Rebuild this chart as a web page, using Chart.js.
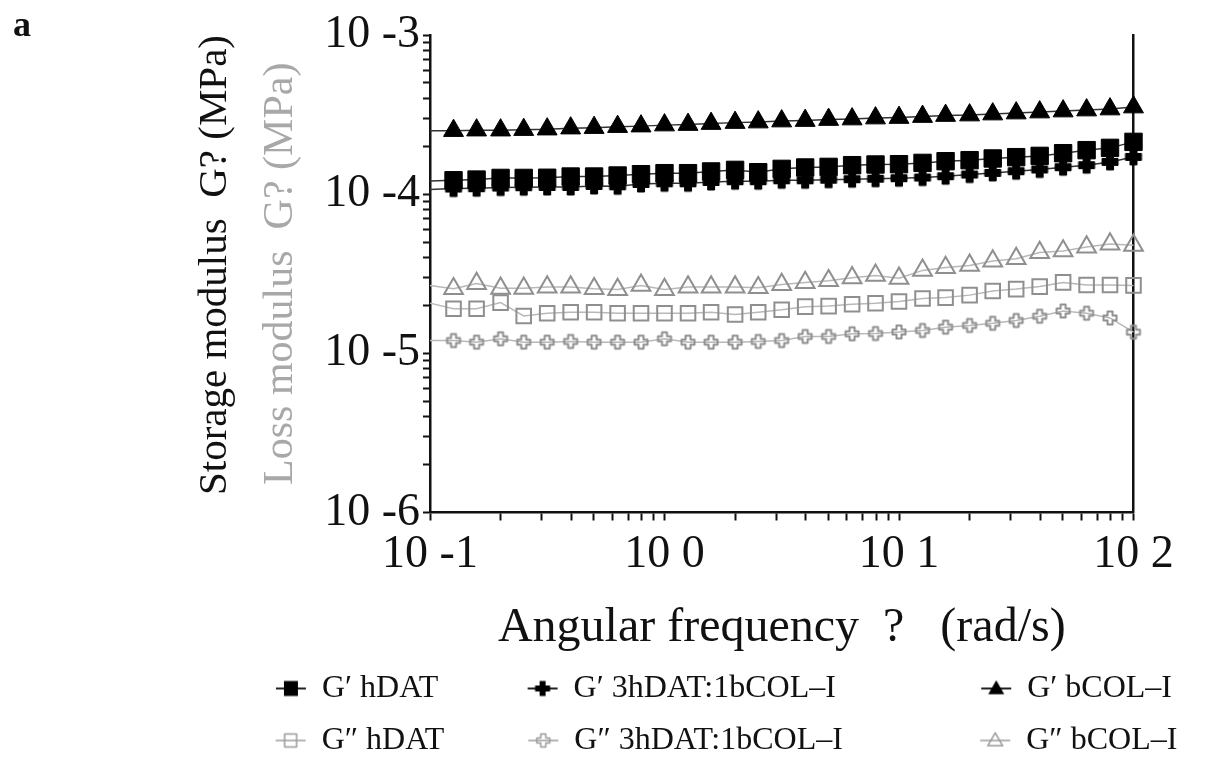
<!DOCTYPE html>
<html><head><meta charset="utf-8">
<script src="https://cdn.jsdelivr.net/npm/chart.js@4.4.1/dist/chart.umd.min.js"></script>
<style>
html,body{margin:0;padding:0;background:#fff;}
#wrap{position:relative;width:1216px;height:760px;}
#panel{position:absolute;left:13px;top:6px;font:bold 36px "Liberation Serif",serif;line-height:1;color:#111;}
canvas{display:block}
</style></head><body>
<div id="wrap"><canvas id="c" width="1216" height="760"></canvas><div id="panel">a</div></div>
<script>
// ---------- data ----------
const frequency = [0.126,0.158,0.2,0.251,0.316,0.398,0.501,0.631,0.794,1,1.26,1.58,2,2.51,3.16,3.98,5.01,6.31,7.94,10,12.6,15.8,20,25.1,31.6,39.8,50.1,63.1,79.4,100];
const axisStartFrequency = 0.1;

const storage_hDAT = [1.223e-4,1.235e-4,1.265e-4,1.265e-4,1.268e-4,1.291e-4,1.291e-4,1.310e-4,1.335e-4,1.355e-4,1.355e-4,1.389e-4,1.421e-4,1.374e-4,1.442e-4,1.471e-4,1.484e-4,1.521e-4,1.536e-4,1.543e-4,1.572e-4,1.611e-4,1.635e-4,1.676e-4,1.708e-4,1.740e-4,1.809e-4,1.890e-4,1.954e-4,2.131e-4];
const storage_mix = [1.085e-4,1.090e-4,1.101e-4,1.106e-4,1.110e-4,1.110e-4,1.126e-4,1.121e-4,1.159e-4,1.171e-4,1.171e-4,1.193e-4,1.206e-4,1.206e-4,1.223e-4,1.223e-4,1.232e-4,1.241e-4,1.250e-4,1.259e-4,1.272e-4,1.296e-4,1.329e-4,1.360e-4,1.394e-4,1.429e-4,1.477e-4,1.521e-4,1.595e-4,1.714e-4];
const storage_bCOL = [2.506e-4,2.524e-4,2.524e-4,2.543e-4,2.561e-4,2.599e-4,2.618e-4,2.656e-4,2.676e-4,2.715e-4,2.735e-4,2.775e-4,2.815e-4,2.836e-4,2.877e-4,2.898e-4,2.941e-4,2.962e-4,3.005e-4,3.027e-4,3.071e-4,3.116e-4,3.138e-4,3.184e-4,3.230e-4,3.277e-4,3.325e-4,3.373e-4,3.423e-4,3.523e-4];
const loss_hDAT = [1.906e-5,1.906e-5,2.082e-5,1.717e-5,1.788e-5,1.814e-5,1.814e-5,1.788e-5,1.788e-5,1.788e-5,1.788e-5,1.814e-5,1.755e-5,1.814e-5,1.878e-5,1.965e-5,1.980e-5,2.034e-5,2.064e-5,2.119e-5,2.213e-5,2.239e-5,2.321e-5,2.466e-5,2.532e-5,2.626e-5,2.790e-5,2.684e-5,2.684e-5,2.672e-5];
const loss_mix = [1.204e-5,1.175e-5,1.234e-5,1.175e-5,1.175e-5,1.187e-5,1.175e-5,1.175e-5,1.175e-5,1.234e-5,1.175e-5,1.175e-5,1.175e-5,1.187e-5,1.204e-5,1.276e-5,1.276e-5,1.327e-5,1.332e-5,1.362e-5,1.392e-5,1.460e-5,1.496e-5,1.545e-5,1.609e-5,1.710e-5,1.846e-5,1.786e-5,1.668e-5,1.358e-5];
const loss_bCOL = [2.547e-5,2.746e-5,2.562e-5,2.562e-5,2.607e-5,2.607e-5,2.547e-5,2.518e-5,2.672e-5,2.518e-5,2.607e-5,2.607e-5,2.607e-5,2.584e-5,2.703e-5,2.782e-5,2.859e-5,2.983e-5,3.088e-5,2.961e-5,3.319e-5,3.458e-5,3.569e-5,3.804e-5,3.933e-5,4.298e-5,4.398e-5,4.655e-5,4.862e-5,4.777e-5];
// where each connecting line meets the y axis (x = 0.1)
const lineStartAtAxis = [1.211e-4, 1.069e-4, 2.50e-4, 2.067e-5, 1.204e-5, 2.672e-5];

const seriesLabels = ['G\u2032 hDAT','G\u2032 3hDAT:1bCOL\u2013I','G\u2032 bCOL\u2013I','G\u2033 hDAT','G\u2033 3hDAT:1bCOL\u2013I','G\u2033 bCOL\u2013I'];

const xDecades = [-1,0,1,2];
const xDecadeLabels = ['10 -1','10 0','10 1','10 2'];
const yDecades = [-6,-5,-4,-3];
const yDecadeLabels = ['10 -6','10 -5','10 -4','10 -3'];
const minorMultipliers = [1,2,3,4,5,6,7,8,9];

// ---------- marker images ----------
function plusPath(ctx, cx, cy, size, arm) {
  const h = size/2, a = arm/2;
  ctx.beginPath();
  ctx.moveTo(cx-a, cy-h); ctx.lineTo(cx+a, cy-h); ctx.lineTo(cx+a, cy-a);
  ctx.lineTo(cx+h, cy-a); ctx.lineTo(cx+h, cy+a); ctx.lineTo(cx+a, cy+a);
  ctx.lineTo(cx+a, cy+h); ctx.lineTo(cx-a, cy+h); ctx.lineTo(cx-a, cy+a);
  ctx.lineTo(cx-h, cy+a); ctx.lineTo(cx-h, cy-a); ctx.lineTo(cx-a, cy-a);
  ctx.closePath();
}
function plusImage(size, arm, fill, stroke, lw) {
  const c = document.createElement('canvas');
  let s = Math.ceil(size + lw + 2); if (s % 2) s += 1;
  c.width = s; c.height = s;
  const ctx = c.getContext('2d');
  ctx.lineJoin = 'round';
  plusPath(ctx, s/2, s/2, size, arm);
  if (fill) { ctx.fillStyle = fill; ctx.fill(); }
  if (stroke) { ctx.strokeStyle = stroke; ctx.lineWidth = lw; ctx.stroke(); }
  return c;
}
const blackPlus = plusImage(16, 7, '#000', '#000', 1);
const grayPlus = plusImage(13, 5, null, '#8f8f8f', 2);

function legendIcon(lineColor, draw) {
  const c = document.createElement('canvas');
  c.width = 32; c.height = 22;
  const ctx = c.getContext('2d');
  ctx.strokeStyle = lineColor; ctx.lineWidth = 2;
  ctx.beginPath(); ctx.moveTo(1, 11); ctx.lineTo(31, 11); ctx.stroke();
  ctx.lineJoin = 'round';
  draw(ctx, 16, 11);
  return c;
}
function triPath(ctx, cx, cy, w, h) {
  ctx.beginPath(); ctx.moveTo(cx, cy - h*2/3); ctx.lineTo(cx + w/2, cy + h/3); ctx.lineTo(cx - w/2, cy + h/3); ctx.closePath();
}
const legendIcons = [
  legendIcon('#222', (ctx,x,y)=>{ ctx.fillStyle='#000'; ctx.fillRect(x-7,y-7.5,14,15); }),
  legendIcon('#222', (ctx,x,y)=>{ plusPath(ctx,x,y,15,6); ctx.fillStyle='#000'; ctx.fill(); }),
  legendIcon('#222', (ctx,x,y)=>{ triPath(ctx,x,y+1,16,14); ctx.fillStyle='#000'; ctx.fill(); }),
  legendIcon('#b5b5b5', (ctx,x,y)=>{ ctx.strokeStyle='#9a9a9a'; ctx.lineWidth=1.5; ctx.strokeRect(x-6,y-6.5,12,13); }),
  legendIcon('#b5b5b5', (ctx,x,y)=>{ plusPath(ctx,x,y,13,5); ctx.strokeStyle='#9a9a9a'; ctx.lineWidth=1.5; ctx.stroke(); }),
  legendIcon('#b5b5b5', (ctx,x,y)=>{ triPath(ctx,x,y+1,15,13); ctx.strokeStyle='#9a9a9a'; ctx.lineWidth=1.5; ctx.stroke(); })
];

// ---------- legend text padding to a grid ----------
const legendFont = '32px "Liberation Serif", serif';
const legendColumnTextWidths = [188, 388, 170];
const mctx = document.createElement('canvas').getContext('2d');
function padTo(text, target) {
  mctx.font = legendFont;
  let t = text, n = 0;
  while (n++ < 60 && mctx.measureText(t + ' ').width <= target) t += ' ';
  n = 0;
  const hw = mctx.measureText('\u200A').width;
  if (hw > 0.5) while (n++ < 20 && mctx.measureText(t + '\u200A').width <= target) t += '\u200A';
  return t;
}

// ---------- datasets ----------
const allSeries = [storage_hDAT, storage_mix, storage_bCOL, loss_hDAT, loss_mix, loss_bCOL];
const styles = [
  {pointStyle:'rect', radius:12.3, bg:'#000', border:'#000', bw:1, line:'#333'},
  {pointStyle:blackPlus, radius:8, bg:'#000', border:'#000', bw:1, line:'#333'},
  {pointStyle:'triangle', radius:11.5, bg:'#000', border:'#000', bw:1, line:'#333'},
  {pointStyle:'rect', radius:10.3, bg:'rgba(0,0,0,0)', border:'#8f8f8f', bw:2, line:'#b8b8b8'},
  {pointStyle:grayPlus, radius:7, bg:'rgba(0,0,0,0)', border:'#8f8f8f', bw:2, line:'#b8b8b8'},
  {pointStyle:'triangle', radius:10.8, bg:'rgba(0,0,0,0)', border:'#8f8f8f', bw:2, line:'#b8b8b8'}
];
const datasets = allSeries.map((vals, i) => {
  const st = styles[i];
  return {
    label: seriesLabels[i],
    xAxisID: 'x',
    yAxisID: 'y',
    data: [{x: axisStartFrequency, y: lineStartAtAxis[i]}].concat(frequency.map((f, k) => ({x: f, y: vals[k]}))),
    borderColor: st.line,
    borderWidth: 1.5,
    pointStyle: st.pointStyle,
    pointRadius: (c) => c.dataIndex === 0 ? 0 : st.radius,
    pointBackgroundColor: st.bg,
    pointBorderColor: st.border,
    pointBorderWidth: st.bw,
    tension: 0,
    fill: false,
    clip: false
  };
});

function decadeTicks(decades) {
  const out = [];
  for (let d = decades[0]; d < decades[decades.length-1]; d++) {
    for (const m of minorMultipliers) out.push({value: m * Math.pow(10, d), major: m === 1});
  }
  out.push({value: Math.pow(10, decades[decades.length-1]), major: true});
  return out;
}
function decadeLabel(v, decades, labels) {
  const e = Math.log10(v);
  const r = Math.round(e);
  if (Math.abs(e - r) < 1e-9) { const i = decades.indexOf(r); return i >= 0 ? labels[i] : ''; }
  return '';
}

Chart.defaults.font.family = '"Liberation Serif", serif';
Chart.defaults.color = '#111';

new Chart(document.getElementById('c'), {
  type: 'line',
  data: { datasets },
  options: {
    responsive: false,
    animation: false,
    devicePixelRatio: 1,
    events: [],
    layout: { padding: { top: 35, left: 116, right: 0, bottom: -6.5 } },
    plugins: {
      tooltip: { enabled: false },
      title: { display: false },
      legend: {
        display: true,
        position: 'bottom',
        align: 'end',
        labels: {
          font: { size: 32, family: '"Liberation Serif", serif' },
          color: '#111',
          padding: 20,
          usePointStyle: true,
          pointStyleWidth: 30,
          generateLabels: (chart) => chart.data.datasets.map((ds, i) => ({
            text: padTo(ds.label, legendColumnTextWidths[i % 3]),
            fillStyle: 'rgba(0,0,0,0)',
            strokeStyle: 'rgba(0,0,0,0)',
            lineWidth: 0,
            pointStyle: legendIcons[i],
            hidden: false,
            datasetIndex: i,
            fontColor: '#111'
          }))
        }
      }
    },
    scales: {
      x: {
        type: 'logarithmic',
        position: 'bottom',
        min: 0.1, max: 100,
        afterBuildTicks: (s) => { s.ticks = decadeTicks(xDecades); },
        afterFit: (s) => { s.height = 140; },
        ticks: {
          autoSkip: false, maxRotation: 0, minRotation: 0, padding: 7,
          font: { size: 46 }, color: '#111',
          callback: (v) => decadeLabel(v, xDecades, xDecadeLabels)
        },
        grid: { display: true, drawOnChartArea: false, drawTicks: true, tickLength: 8, tickWidth: 2, tickColor: '#111' },
        border: { display: true, color: '#111', width: 2.5 },
        title: { display: true, text: 'Angular frequency  ?   (rad/s)', font: { size: 48 }, color: '#111', padding: { top: 0, bottom: -5 } }
      },
      y: {
        type: 'logarithmic', position: 'left', weight: 1,
        min: 1e-6, max: 1e-3,
        afterBuildTicks: (s) => { s.ticks = decadeTicks(yDecades); },
        afterFit: (s) => { s.width = 110; },
        ticks: {
          autoSkip: false, padding: 3,
          font: { size: 46 }, color: '#111',
          callback: (v) => decadeLabel(v, yDecades, yDecadeLabels)
        },
        grid: { display: true, drawOnChartArea: false, drawTicks: true, tickLength: 7, tickWidth: 2, tickColor: '#111' },
        border: { display: true, color: '#111', width: 2.5 }
      },
      yS: {
        type: 'linear', position: 'left', weight: 3,
        afterFit: (s) => { s.width = 132; },
        ticks: { display: false }, grid: { display: false, drawTicks: false }, border: { display: false },
        title: { display: true, text: 'Storage modulus  G? (MPa)', align: 'end', font: { size: 41 }, color: '#111', padding: { top: 75, bottom: 0 } }
      },
      yL: {
        type: 'linear', position: 'left', weight: 2,
        afterFit: (s) => { s.width = 72; },
        ticks: { display: false }, grid: { display: false, drawTicks: false }, border: { display: false },
        title: { display: true, text: 'Loss modulus  G? (MPa)', align: 'center', font: { size: 42 }, color: '#a8a8a8', padding: { top: 8, bottom: 0 } }
      },
      yR: {
        type: 'linear', position: 'right',
        afterFit: (s) => { s.width = 82.5; },
        ticks: { display: false }, grid: { display: false, drawTicks: false },
        border: { display: true, color: '#111', width: 2.5 }
      }
    }
  }
});
</script>
</body></html>
